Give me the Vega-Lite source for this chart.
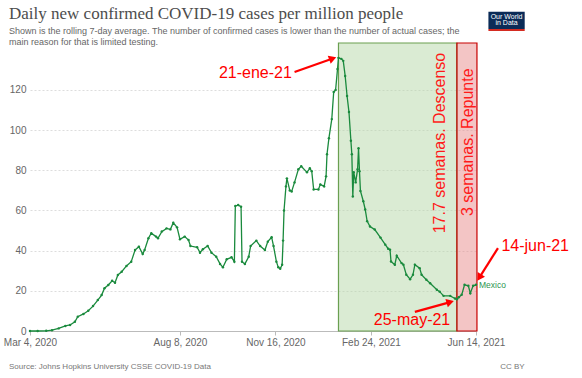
{
  "$schema": "https://vega.github.io/schema/vega-lite/v6.json",
  "width": 446,
  "height": 288,
  "autosize": {"type": "none"},
  "padding": {"left": 30, "top": 43, "right": 106, "bottom": 47},
  "config": {"view": {"stroke": null}, "font": "Liberation Sans"},
  "title": {
    "text": "Daily new confirmed COVID-19 cases per million people",
    "subtitle": ["Shown is the rolling 7-day average. The number of confirmed cases is lower than the number of actual cases; the", "main reason for that is limited testing."],
    "anchor": "start",
    "frame": "group",
    "dx": -21,
    "offset": -36,
    "font": "Liberation Serif",
    "fontSize": 17,
    "fontWeight": "normal",
    "color": "#4d4d4d",
    "subtitleFont": "Liberation Sans",
    "subtitleFontSize": 9,
    "subtitleColor": "#666666",
    "subtitlePadding": 4,
    "subtitleLineHeight": 11
  },
  "datasets": {
    "series": [
      {"date": "2020-03-04", "cases": 0},
      {"date": "2020-03-12", "cases": 0},
      {"date": "2020-03-21", "cases": 0.1},
      {"date": "2020-03-27", "cases": 0.4},
      {"date": "2020-04-03", "cases": 1.3},
      {"date": "2020-04-10", "cases": 2.5},
      {"date": "2020-04-15", "cases": 3},
      {"date": "2020-04-20", "cases": 4.6},
      {"date": "2020-04-23", "cases": 7.1},
      {"date": "2020-04-29", "cases": 8.5},
      {"date": "2020-05-04", "cases": 10.1},
      {"date": "2020-05-09", "cases": 12.4},
      {"date": "2020-05-14", "cases": 15.4},
      {"date": "2020-05-18", "cases": 17.9},
      {"date": "2020-05-21", "cases": 21.3},
      {"date": "2020-05-25", "cases": 22.9},
      {"date": "2020-05-29", "cases": 25},
      {"date": "2020-06-01", "cases": 24},
      {"date": "2020-06-04", "cases": 27.9},
      {"date": "2020-06-08", "cases": 29.5},
      {"date": "2020-06-13", "cases": 32.4},
      {"date": "2020-06-18", "cases": 34.5},
      {"date": "2020-06-22", "cases": 40.3},
      {"date": "2020-06-26", "cases": 42},
      {"date": "2020-06-30", "cases": 38.3},
      {"date": "2020-07-02", "cases": 40.3},
      {"date": "2020-07-06", "cases": 46.2},
      {"date": "2020-07-09", "cases": 48.7},
      {"date": "2020-07-14", "cases": 47},
      {"date": "2020-07-16", "cases": 46.2},
      {"date": "2020-07-20", "cases": 49.5},
      {"date": "2020-07-25", "cases": 51.1},
      {"date": "2020-07-29", "cases": 50.6},
      {"date": "2020-08-01", "cases": 53.9},
      {"date": "2020-08-05", "cases": 51.6},
      {"date": "2020-08-08", "cases": 45.7},
      {"date": "2020-08-13", "cases": 47},
      {"date": "2020-08-17", "cases": 45.3},
      {"date": "2020-08-19", "cases": 42.3},
      {"date": "2020-08-26", "cases": 41.7},
      {"date": "2020-08-29", "cases": 39},
      {"date": "2020-09-01", "cases": 40.7},
      {"date": "2020-09-06", "cases": 42.3},
      {"date": "2020-09-10", "cases": 39},
      {"date": "2020-09-15", "cases": 37},
      {"date": "2020-09-19", "cases": 33.4},
      {"date": "2020-09-22", "cases": 31.7},
      {"date": "2020-09-26", "cases": 35.7},
      {"date": "2020-10-01", "cases": 36.7},
      {"date": "2020-10-04", "cases": 34.5},
      {"date": "2020-10-05", "cases": 62.3},
      {"date": "2020-10-08", "cases": 62.7},
      {"date": "2020-10-11", "cases": 61.9},
      {"date": "2020-10-12", "cases": 34.5},
      {"date": "2020-10-15", "cases": 33.4},
      {"date": "2020-10-19", "cases": 37},
      {"date": "2020-10-21", "cases": 42.3},
      {"date": "2020-10-27", "cases": 45},
      {"date": "2020-10-31", "cases": 42.3},
      {"date": "2020-11-05", "cases": 40.3},
      {"date": "2020-11-08", "cases": 44.5},
      {"date": "2020-11-12", "cases": 46.7},
      {"date": "2020-11-14", "cases": 42.3},
      {"date": "2020-11-17", "cases": 34.5},
      {"date": "2020-11-19", "cases": 31.7},
      {"date": "2020-11-21", "cases": 31},
      {"date": "2020-11-23", "cases": 33},
      {"date": "2020-11-24", "cases": 45},
      {"date": "2020-11-25", "cases": 60},
      {"date": "2020-11-27", "cases": 72},
      {"date": "2020-11-28", "cases": 76},
      {"date": "2020-12-01", "cases": 70},
      {"date": "2020-12-03", "cases": 69.5},
      {"date": "2020-12-06", "cases": 74},
      {"date": "2020-12-10", "cases": 80.5},
      {"date": "2020-12-13", "cases": 82},
      {"date": "2020-12-19", "cases": 79},
      {"date": "2020-12-22", "cases": 81},
      {"date": "2020-12-24", "cases": 79.6},
      {"date": "2020-12-26", "cases": 70.5},
      {"date": "2020-12-31", "cases": 70.5},
      {"date": "2021-01-02", "cases": 73},
      {"date": "2021-01-06", "cases": 72},
      {"date": "2021-01-08", "cases": 77},
      {"date": "2021-01-09", "cases": 88},
      {"date": "2021-01-11", "cases": 96},
      {"date": "2021-01-14", "cases": 105.5},
      {"date": "2021-01-16", "cases": 119},
      {"date": "2021-01-18", "cases": 120},
      {"date": "2021-01-20", "cases": 130.5},
      {"date": "2021-01-21", "cases": 136},
      {"date": "2021-01-24", "cases": 135.5},
      {"date": "2021-01-26", "cases": 134.5},
      {"date": "2021-01-28", "cases": 127},
      {"date": "2021-01-30", "cases": 117},
      {"date": "2021-02-01", "cases": 109},
      {"date": "2021-02-03", "cases": 94.7},
      {"date": "2021-02-04", "cases": 88},
      {"date": "2021-02-05", "cases": 67},
      {"date": "2021-02-06", "cases": 79},
      {"date": "2021-02-08", "cases": 74},
      {"date": "2021-02-10", "cases": 80.5},
      {"date": "2021-02-11", "cases": 91},
      {"date": "2021-02-12", "cases": 79.6},
      {"date": "2021-02-13", "cases": 69.7},
      {"date": "2021-02-16", "cases": 64.6},
      {"date": "2021-02-18", "cases": 60.5},
      {"date": "2021-02-20", "cases": 54.7},
      {"date": "2021-02-23", "cases": 52},
      {"date": "2021-02-28", "cases": 50.5},
      {"date": "2021-03-06", "cases": 46.5},
      {"date": "2021-03-11", "cases": 43},
      {"date": "2021-03-14", "cases": 41},
      {"date": "2021-03-16", "cases": 40.5},
      {"date": "2021-03-17", "cases": 34.6},
      {"date": "2021-03-21", "cases": 33},
      {"date": "2021-03-23", "cases": 37.5},
      {"date": "2021-03-28", "cases": 33.8},
      {"date": "2021-03-30", "cases": 33},
      {"date": "2021-04-02", "cases": 28},
      {"date": "2021-04-06", "cases": 25.8},
      {"date": "2021-04-09", "cases": 28},
      {"date": "2021-04-11", "cases": 33},
      {"date": "2021-04-16", "cases": 31.3},
      {"date": "2021-04-18", "cases": 28},
      {"date": "2021-04-23", "cases": 25.5},
      {"date": "2021-04-27", "cases": 23.8},
      {"date": "2021-05-04", "cases": 20.5},
      {"date": "2021-05-07", "cases": 19.6},
      {"date": "2021-05-11", "cases": 17.5},
      {"date": "2021-05-18", "cases": 17.5},
      {"date": "2021-05-23", "cases": 16.2},
      {"date": "2021-05-25", "cases": 15.8},
      {"date": "2021-05-27", "cases": 16.8},
      {"date": "2021-05-30", "cases": 18},
      {"date": "2021-06-02", "cases": 23},
      {"date": "2021-06-06", "cases": 22.5},
      {"date": "2021-06-08", "cases": 18.8},
      {"date": "2021-06-11", "cases": 22.5},
      {"date": "2021-06-14", "cases": 23}
    ],
    "bands": [
      {"phase": "Descenso", "start": "2021-01-21", "end": "2021-05-25"},
      {"phase": "Repunte", "start": "2021-05-25", "end": "2021-06-15"}
    ],
    "arrows": [
      {"target": "peak", "from_date": "2020-12-06", "from_value": 129, "to_date": "2021-01-15", "to_value": 135.7},
      {"target": "minimum", "from_date": "2021-04-11", "from_value": 9.5, "to_date": "2021-05-18", "to_value": 14.4},
      {"target": "latest", "from_date": "2021-07-07", "from_value": 41.3, "to_date": "2021-06-17T12:00:00Z", "to_value": 26.6}
    ],
    "notes": [
      {"label": "21-ene-21", "date": "2020-10-26", "value": 126.0},
      {"label": "25-may-21", "date": "2021-04-08", "value": 3.2},
      {"label": "14-jun-21", "date": "2021-08-15", "value": 39.8}
    ],
    "periods": [
      {"label": "17.7 semanas. Descenso", "date": "2021-05-12T12:00:00Z", "value": 93.6},
      {"label": "3 semanas. Repunte", "date": "2021-06-11", "value": 94.0}
    ],
    "entity": [
      {"label": "Mexico", "date": "2021-06-14", "value": 23}
    ]
  },
  "layer": [
    {
      "data": {"name": "bands"},
      "mark": {"type": "rect", "strokeWidth": 1.2, "fillOpacity": 0.5},
      "encoding": {
        "x": {"field": "start", "type": "temporal", "title": null},
        "x2": {"field": "end"},
        "y": {"datum": 0, "type": "quantitative"},
        "y2": {"datum": 143.4},
        "fill": {"field": "phase", "type": "nominal", "scale": {"domain": ["Descenso", "Repunte"], "range": ["#b6d7a8", "#e88c8c"]}, "legend": null},
        "stroke": {"field": "phase", "type": "nominal", "scale": {"domain": ["Descenso", "Repunte"], "range": ["#6a9f50", "#c80000"]}, "legend": null}
      }
    },
    {
      "data": {"name": "series"},
      "mark": {"type": "line", "color": "#1a8a3d", "strokeWidth": 1.3, "point": {"filled": true, "size": 6, "color": "#1a8a3d"}},
      "encoding": {
        "x": {
          "field": "date", "type": "temporal", "title": null,
          "scale": {"type": "utc", "nice": false, "domain": [{"year": 2020, "month": 3, "date": 4, "utc": true}, {"year": 2021, "month": 6, "date": 14, "utc": true}]},
          "axis": {
            "title": null,
            "values": [{"year": 2020, "month": 3, "date": 4, "utc": true}, {"year": 2020, "month": 8, "date": 8, "utc": true}, {"year": 2020, "month": 11, "date": 16, "utc": true}, {"year": 2021, "month": 2, "date": 24, "utc": true}, {"year": 2021, "month": 6, "date": 14, "utc": true}],
            "format": "%b %-d, %Y",
            "labelFontSize": 10, "labelColor": "#666666", "labelFont": "Liberation Sans",
            "tickColor": "#bbbbbb", "tickSize": 4, "domainColor": "#bbbbbb",
            "grid": false, "labelPadding": 2, "labelOverlap": false, "labelFlush": false
          }
        },
        "y": {
          "field": "cases", "type": "quantitative", "title": null,
          "scale": {"domain": [0, 143.4], "nice": false, "zero": true},
          "axis": {
            "title": null, "values": [0, 20, 40, 60, 80, 100, 120],
            "grid": true, "gridColor": "#dddddd", "gridDash": [2, 2],
            "domain": false, "ticks": false, "labelPadding": 4,
            "labelFontSize": 10, "labelColor": "#666666", "labelFont": "Liberation Sans"
          }
        }
      }
    },
    {
      "data": {"name": "arrows"},
      "mark": {"type": "rule", "color": "#ff0000", "strokeWidth": 2.2},
      "encoding": {
        "x": {"field": "from_date", "type": "temporal"},
        "y": {"field": "from_value", "type": "quantitative"},
        "x2": {"field": "to_date"},
        "y2": {"field": "to_value"}
      }
    },
    {
      "data": {"name": "arrows"},
      "transform": [{"filter": "datum.target === 'peak'"}],
      "mark": {"type": "point", "shape": "triangle-right", "filled": true, "size": 75, "color": "#ff0000", "opacity": 1, "angle": 340},
      "encoding": {
        "x": {"field": "to_date", "type": "temporal"},
        "y": {"field": "to_value", "type": "quantitative"}
      }
    },
    {
      "data": {"name": "arrows"},
      "transform": [{"filter": "datum.target === 'minimum'"}],
      "mark": {"type": "point", "shape": "triangle-right", "filled": true, "size": 75, "color": "#ff0000", "opacity": 1, "angle": 344},
      "encoding": {
        "x": {"field": "to_date", "type": "temporal"},
        "y": {"field": "to_value", "type": "quantitative"}
      }
    },
    {
      "data": {"name": "arrows"},
      "transform": [{"filter": "datum.target === 'latest'"}],
      "mark": {"type": "point", "shape": "triangle-right", "filled": true, "size": 75, "color": "#ff0000", "opacity": 1, "angle": 122},
      "encoding": {
        "x": {"field": "to_date", "type": "temporal"},
        "y": {"field": "to_value", "type": "quantitative"}
      }
    },
    {
      "data": {"name": "notes"},
      "mark": {"type": "text", "color": "#ff0000", "fontSize": 16, "font": "Liberation Sans", "align": "center", "baseline": "alphabetic"},
      "encoding": {
        "x": {"field": "date", "type": "temporal"},
        "y": {"field": "value", "type": "quantitative"},
        "text": {"field": "label"}
      }
    },
    {
      "data": {"name": "periods"},
      "mark": {"type": "text", "color": "#ff1a1a", "fontSize": 16, "font": "Liberation Sans", "align": "center", "baseline": "alphabetic", "angle": 270},
      "encoding": {
        "x": {"field": "date", "type": "temporal"},
        "y": {"field": "value", "type": "quantitative"},
        "text": {"field": "label"}
      }
    },
    {
      "data": {"name": "entity"},
      "mark": {"type": "text", "color": "#2e9650", "fontSize": 8.5, "font": "Liberation Sans", "align": "left", "baseline": "middle", "dx": 3},
      "encoding": {
        "x": {"field": "date", "type": "temporal"},
        "y": {"field": "value", "type": "quantitative"},
        "text": {"field": "label"}
      }
    },
    {
      "data": {"values": [{}]},
      "mark": {"type": "rect", "color": "#0b2b57"},
      "encoding": {
        "x": {"datum": {"year": 2021, "month": 6, "date": 27, "utc": true}, "type": "temporal"},
        "x2": {"datum": {"year": 2021, "month": 8, "date": 4, "utc": true}},
        "y": {"datum": 150.4, "type": "quantitative"},
        "y2": {"datum": 158.9}
      }
    },
    {
      "data": {"values": [{}]},
      "mark": {"type": "rect", "color": "#d42b21"},
      "encoding": {
        "x": {"datum": {"year": 2021, "month": 6, "date": 27, "utc": true}, "type": "temporal"},
        "x2": {"datum": {"year": 2021, "month": 8, "date": 4, "utc": true}},
        "y": {"datum": 149.4, "type": "quantitative"},
        "y2": {"datum": 150.4}
      }
    },
    {
      "data": {"values": [{"line": "Our World", "value": 156.3}, {"line": "in Data", "value": 153.4}]},
      "mark": {"type": "text", "color": "#ffffff", "fontSize": 7, "font": "Liberation Sans", "align": "center", "baseline": "middle"},
      "encoding": {
        "x": {"datum": {"year": 2021, "month": 7, "date": 16, "utc": true}, "type": "temporal"},
        "y": {"field": "value", "type": "quantitative"},
        "text": {"field": "line"}
      }
    },
    {
      "data": {"values": [{}]},
      "mark": {"type": "text", "color": "#777777", "fontSize": 8, "font": "Liberation Sans", "align": "left", "baseline": "middle"},
      "encoding": {
        "x": {"datum": {"year": 2020, "month": 2, "date": 11, "utc": true}, "type": "temporal"},
        "y": {"datum": -17.9, "type": "quantitative"},
        "text": {"value": "Source: Johns Hopkins University CSSE COVID-19 Data"}
      }
    },
    {
      "data": {"values": [{}]},
      "mark": {"type": "text", "color": "#777777", "fontSize": 8, "font": "Liberation Sans", "align": "right", "baseline": "middle"},
      "encoding": {
        "x": {"datum": {"year": 2021, "month": 8, "date": 4, "utc": true}, "type": "temporal"},
        "y": {"datum": -17.9, "type": "quantitative"},
        "text": {"value": "CC BY"}
      }
    }
  ]
}
